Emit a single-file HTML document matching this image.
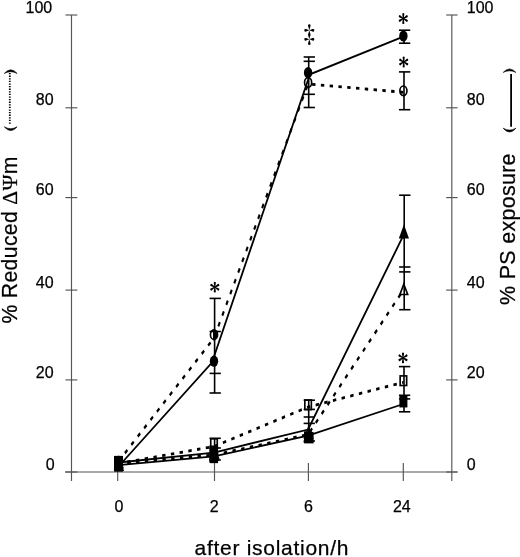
<!DOCTYPE html>
<html><head><meta charset="utf-8"><style>
html,body{margin:0;padding:0;background:#fff;}
svg{display:block;will-change:transform;}
text{stroke:#000;stroke-width:0.25px;}
</style></head><body>
<svg width="520" height="557" viewBox="0 0 520 557">

<g stroke="#555" stroke-width="1.15" fill="none">
<line x1="71.5" y1="15" x2="71.5" y2="481"/>
<line x1="451.8" y1="15" x2="451.8" y2="481"/>
<line x1="65" y1="472" x2="457.5" y2="472"/>
<line x1="65.5" y1="15" x2="77.3" y2="15"/>
<line x1="446.2" y1="15" x2="457.6" y2="15"/>
<line x1="65.5" y1="107.8" x2="77.3" y2="107.8"/>
<line x1="446.2" y1="107.8" x2="457.6" y2="107.8"/>
<line x1="65.5" y1="197.6" x2="77.3" y2="197.6"/>
<line x1="446.2" y1="197.6" x2="457.6" y2="197.6"/>
<line x1="65.5" y1="290.1" x2="77.3" y2="290.1"/>
<line x1="446.2" y1="290.1" x2="457.6" y2="290.1"/>
<line x1="65.5" y1="379.9" x2="77.3" y2="379.9"/>
<line x1="446.2" y1="379.9" x2="457.6" y2="379.9"/>
<line x1="65.5" y1="472" x2="77.3" y2="472"/>
<line x1="446.2" y1="472" x2="457.6" y2="472"/>
<line x1="117.7" y1="463" x2="117.7" y2="481"/>
<line x1="214.5" y1="463" x2="214.5" y2="481"/>
<line x1="308.4" y1="463" x2="308.4" y2="481"/>
<line x1="403.3" y1="463" x2="403.3" y2="481"/>
</g>
<g font-family="Liberation Sans" font-size="16" fill="#000">
<text x="52.2" y="12.7" text-anchor="end">100</text>
<text x="466.8" y="12.5">100</text>
<text x="53.6" y="105.3" text-anchor="end">80</text>
<text x="466.8" y="105.1">80</text>
<text x="53.6" y="195.4" text-anchor="end">60</text>
<text x="466.8" y="195.20000000000002">60</text>
<text x="53.6" y="287.7" text-anchor="end">40</text>
<text x="466.8" y="287.5">40</text>
<text x="53.6" y="377.7" text-anchor="end">20</text>
<text x="466.8" y="377.5">20</text>
<text x="54.6" y="469.6" text-anchor="end">0</text>
<text x="466.8" y="469.6">0</text>
<text x="119" y="511.7" text-anchor="middle">0</text>
<text x="214.1" y="511.7" text-anchor="middle">2</text>
<text x="308.4" y="511.7" text-anchor="middle">6</text>
<text x="401.8" y="511.7" text-anchor="middle">24</text>
</g>
<text x="194.5" y="555" font-family="Liberation Sans" font-size="21" letter-spacing="0.72">after isolation/h</text>
<text transform="translate(16.9,323.6) rotate(-90)" font-family="Liberation Sans" font-size="21.2" letter-spacing="0.35">% Reduced <tspan font-family="Liberation Serif" font-size="21.5">ΔΨ</tspan>m</text>
<text transform="translate(514.6,305) rotate(-90)" font-family="Liberation Sans" font-size="21.5" letter-spacing="0.28">% PS exposure</text>
<path d="M4.3,73.4 Q10.700000000000001,66.19999999999999 17.1,73.4 Q10.700000000000001,70.0 4.3,73.4 Z" fill="#000" stroke="#000" stroke-width="0.6" stroke-linejoin="round"/>
<path d="M4.3,126.8 Q10.700000000000001,134.39999999999998 17.1,126.8 Q10.700000000000001,130.59999999999997 4.3,126.8 Z" fill="#000" stroke="#000" stroke-width="0.6" stroke-linejoin="round"/>
<path d="M503.2,72.4 Q509.54999999999995,65.4 515.9,72.4 Q509.54999999999995,69.20000000000002 503.2,72.4 Z" fill="#000" stroke="#000" stroke-width="0.6" stroke-linejoin="round"/>
<path d="M503.2,128.2 Q509.54999999999995,135.8 515.9,128.2 Q509.54999999999995,132.0 503.2,128.2 Z" fill="#000" stroke="#000" stroke-width="0.6" stroke-linejoin="round"/>
<line x1="9.8" y1="73" x2="9.8" y2="125" stroke="#000" stroke-width="1.8" stroke-dasharray="1.3 1.3"/>
<line x1="511.1" y1="74" x2="511.1" y2="126.8" stroke="#000" stroke-width="1.8"/>
<rect x="114" y="456" width="9" height="15.6" fill="#000"/>
<g fill="none" stroke="#000">
<polyline points="118.5,466.5 212.0,362.5 310.0,74.3 403.4,36.6" stroke-width="1.8"/>
<polyline points="118.5,462.5 214.0,452.6 308.1,429.5 403.4,235.4" stroke-width="1.8"/>
<polyline points="118.5,465.2 214.0,456.3 308.1,435.7 403.4,404.0" stroke-width="1.8"/>
</g>
<g fill="none" stroke="#000" transform="scale(1,1.37)">
<polyline points="118.5,336.79 214.0,246.72 308.1,61.31 403.4,67.37" stroke-width="2.05" stroke-dasharray="3.4 5.4"/>
<polyline points="118.5,338.54 214.0,332.12 308.1,317.15 403.4,211.68" stroke-width="2.05" stroke-dasharray="3.4 5.4"/>
<polyline points="118.5,338.32 214.0,325.91 308.1,297.08 403.4,279.05" stroke-width="2.05" stroke-dasharray="3.4 5.4"/>
</g>
<g stroke="#000" stroke-width="1.6">
<line x1="214.6" y1="298.4" x2="214.6" y2="393"/><line x1="209.54999999999998" y1="298.4" x2="220.85" y2="298.4"/><line x1="209.54999999999998" y1="331.5" x2="220.85" y2="331.5"/><line x1="209.54999999999998" y1="373.4" x2="220.85" y2="373.4"/><line x1="209.54999999999998" y1="393" x2="220.85" y2="393"/>
<line x1="308.70000000000005" y1="57" x2="308.70000000000005" y2="107.5"/><line x1="303.65000000000003" y1="57" x2="314.95" y2="57"/><line x1="303.65000000000003" y1="61.3" x2="314.95" y2="61.3"/><line x1="303.65000000000003" y1="94.3" x2="314.95" y2="94.3"/><line x1="303.65000000000003" y1="107.5" x2="314.95" y2="107.5"/>
<line x1="404.0" y1="30.2" x2="404.0" y2="43.2"/><line x1="398.95" y1="30.2" x2="410.24999999999994" y2="30.2"/><line x1="398.95" y1="43.2" x2="410.24999999999994" y2="43.2"/>
<line x1="404.0" y1="71.9" x2="404.0" y2="109.7"/><line x1="398.95" y1="71.9" x2="410.24999999999994" y2="71.9"/><line x1="398.95" y1="109.7" x2="410.24999999999994" y2="109.7"/>
<line x1="404.20000000000005" y1="195.2" x2="404.20000000000005" y2="309.7"/><line x1="399.15000000000003" y1="195.2" x2="410.45" y2="195.2"/><line x1="399.15000000000003" y1="267" x2="410.45" y2="267"/><line x1="399.15000000000003" y1="271.9" x2="410.45" y2="271.9"/><line x1="399.15000000000003" y1="309.7" x2="410.45" y2="309.7"/>
<line x1="404.0" y1="366.6" x2="404.0" y2="411.8"/><line x1="398.95" y1="366.6" x2="410.24999999999994" y2="366.6"/><line x1="398.95" y1="395.3" x2="410.24999999999994" y2="395.3"/><line x1="398.95" y1="398.9" x2="410.24999999999994" y2="398.9"/><line x1="398.95" y1="411.8" x2="410.24999999999994" y2="411.8"/>
<line x1="308.70000000000005" y1="400.2" x2="308.70000000000005" y2="443"/><line x1="303.65000000000003" y1="400.2" x2="314.95" y2="400.2"/><line x1="303.65000000000003" y1="409.4" x2="314.95" y2="409.4"/><line x1="303.65000000000003" y1="417" x2="314.95" y2="417"/><line x1="303.65000000000003" y1="423.4" x2="314.95" y2="423.4"/><line x1="303.65000000000003" y1="441" x2="314.95" y2="441"/>
<line x1="214.6" y1="438.3" x2="214.6" y2="463"/><line x1="209.54999999999998" y1="438.3" x2="220.85" y2="438.3"/><line x1="209.54999999999998" y1="448" x2="220.85" y2="448"/><line x1="209.54999999999998" y1="460" x2="220.85" y2="460"/>
</g>
<rect x="115.25" y="456.7" width="6.5" height="9.6" fill="none" stroke="#000" stroke-width="1.65"/>
<rect x="210.75" y="438.8" width="6.5" height="9.6" fill="none" stroke="#000" stroke-width="1.65"/>
<rect x="304.85" y="400.0" width="6.5" height="9.6" fill="none" stroke="#000" stroke-width="1.65"/>
<rect x="400.15" y="375.9" width="6.5" height="9.6" fill="none" stroke="#000" stroke-width="1.65"/>
<path d="M118.9,457.4 L122.8,467.7 L115.0,467.7 Z" fill="none" stroke="#000" stroke-width="1.65"/>
<path d="M214.4,449.4 L218.3,459.7 L210.5,459.7 Z" fill="none" stroke="#000" stroke-width="1.65"/>
<path d="M308.5,431.4 L312.40000000000003,441.7 L304.6,441.7 Z" fill="none" stroke="#000" stroke-width="1.65"/>
<path d="M403.79999999999995,284.2 L407.7,294.5 L399.9,294.5 Z" fill="none" stroke="#000" stroke-width="1.65"/>
<ellipse cx="118.5" cy="462" rx="3.55" ry="4.8" fill="none" stroke="#000" stroke-width="1.65"/>
<ellipse cx="214.0" cy="334.7" rx="3.55" ry="4.8" fill="none" stroke="#000" stroke-width="1.65"/>
<ellipse cx="308.1" cy="82.5" rx="3.55" ry="4.8" fill="none" stroke="#000" stroke-width="1.65"/>
<ellipse cx="403.4" cy="90.8" rx="3.55" ry="4.8" fill="none" stroke="#000" stroke-width="1.65"/>
<rect x="114.5" y="459.75" width="8" height="11.5" fill="#000"/>
<rect x="210.0" y="451.65" width="8" height="11.5" fill="#000"/>
<rect x="304.1" y="431.25" width="8" height="11.5" fill="#000"/>
<rect x="399.4" y="395.95" width="8" height="11.5" fill="#000"/>
<path d="M119.0,457 L124.1,471 L113.9,471 Z" fill="#000"/>
<path d="M214.5,445 L219.6,459 L209.4,459 Z" fill="#000"/>
<path d="M308.6,425 L313.70000000000005,439 L303.5,439 Z" fill="#000"/>
<path d="M403.9,224.4 L409.0,238.4 L398.79999999999995,238.4 Z" fill="#000"/>
<ellipse cx="118.5" cy="463" rx="4.2" ry="5.6" fill="#000"/>
<ellipse cx="214.0" cy="361.2" rx="4.2" ry="5.6" fill="#000"/>
<ellipse cx="308.1" cy="72.7" rx="4.2" ry="5.6" fill="#000"/>
<ellipse cx="403.4" cy="36.0" rx="4.2" ry="5.6" fill="#000"/>
<rect x="209.3" y="445.5" width="8.8" height="17.2" fill="#000"/>
<path d="M213,329.8 C218.8,329.8 218.8,340.6 213,340.6 Z" fill="#000"/>
<rect x="304.2" y="432" width="9.4" height="11.4" fill="#000"/>
<g transform="translate(214.8,287.2) scale(0.95,1.02)" fill="#000"><path d="M-0.45,0 L-1.05,-3.8 A1.12,1.12 0 1,1 1.05,-3.8 L0.45,0 Z" transform="rotate(0)"/><path d="M-0.45,0 L-1.05,-3.8 A1.12,1.12 0 1,1 1.05,-3.8 L0.45,0 Z" transform="rotate(60)"/><path d="M-0.45,0 L-1.05,-3.8 A1.12,1.12 0 1,1 1.05,-3.8 L0.45,0 Z" transform="rotate(120)"/><path d="M-0.45,0 L-1.05,-3.8 A1.12,1.12 0 1,1 1.05,-3.8 L0.45,0 Z" transform="rotate(180)"/><path d="M-0.45,0 L-1.05,-3.8 A1.12,1.12 0 1,1 1.05,-3.8 L0.45,0 Z" transform="rotate(240)"/><path d="M-0.45,0 L-1.05,-3.8 A1.12,1.12 0 1,1 1.05,-3.8 L0.45,0 Z" transform="rotate(300)"/><circle r="1.1"/></g>
<g transform="translate(403.3,18.5) scale(0.95,1.02)" fill="#000"><path d="M-0.45,0 L-1.05,-3.8 A1.12,1.12 0 1,1 1.05,-3.8 L0.45,0 Z" transform="rotate(0)"/><path d="M-0.45,0 L-1.05,-3.8 A1.12,1.12 0 1,1 1.05,-3.8 L0.45,0 Z" transform="rotate(60)"/><path d="M-0.45,0 L-1.05,-3.8 A1.12,1.12 0 1,1 1.05,-3.8 L0.45,0 Z" transform="rotate(120)"/><path d="M-0.45,0 L-1.05,-3.8 A1.12,1.12 0 1,1 1.05,-3.8 L0.45,0 Z" transform="rotate(180)"/><path d="M-0.45,0 L-1.05,-3.8 A1.12,1.12 0 1,1 1.05,-3.8 L0.45,0 Z" transform="rotate(240)"/><path d="M-0.45,0 L-1.05,-3.8 A1.12,1.12 0 1,1 1.05,-3.8 L0.45,0 Z" transform="rotate(300)"/><circle r="1.1"/></g>
<g transform="translate(403.7,62) scale(0.95,1.02)" fill="#000"><path d="M-0.45,0 L-1.05,-3.8 A1.12,1.12 0 1,1 1.05,-3.8 L0.45,0 Z" transform="rotate(0)"/><path d="M-0.45,0 L-1.05,-3.8 A1.12,1.12 0 1,1 1.05,-3.8 L0.45,0 Z" transform="rotate(60)"/><path d="M-0.45,0 L-1.05,-3.8 A1.12,1.12 0 1,1 1.05,-3.8 L0.45,0 Z" transform="rotate(120)"/><path d="M-0.45,0 L-1.05,-3.8 A1.12,1.12 0 1,1 1.05,-3.8 L0.45,0 Z" transform="rotate(180)"/><path d="M-0.45,0 L-1.05,-3.8 A1.12,1.12 0 1,1 1.05,-3.8 L0.45,0 Z" transform="rotate(240)"/><path d="M-0.45,0 L-1.05,-3.8 A1.12,1.12 0 1,1 1.05,-3.8 L0.45,0 Z" transform="rotate(300)"/><circle r="1.1"/></g>
<g transform="translate(403,357.8) scale(0.95,1.02)" fill="#000"><path d="M-0.45,0 L-1.05,-3.8 A1.12,1.12 0 1,1 1.05,-3.8 L0.45,0 Z" transform="rotate(0)"/><path d="M-0.45,0 L-1.05,-3.8 A1.12,1.12 0 1,1 1.05,-3.8 L0.45,0 Z" transform="rotate(60)"/><path d="M-0.45,0 L-1.05,-3.8 A1.12,1.12 0 1,1 1.05,-3.8 L0.45,0 Z" transform="rotate(120)"/><path d="M-0.45,0 L-1.05,-3.8 A1.12,1.12 0 1,1 1.05,-3.8 L0.45,0 Z" transform="rotate(180)"/><path d="M-0.45,0 L-1.05,-3.8 A1.12,1.12 0 1,1 1.05,-3.8 L0.45,0 Z" transform="rotate(240)"/><path d="M-0.45,0 L-1.05,-3.8 A1.12,1.12 0 1,1 1.05,-3.8 L0.45,0 Z" transform="rotate(300)"/><circle r="1.1"/></g>
<g fill="#000" transform="translate(309.3,0)"><path d="M0,30.3 L-1.2,26.1 A1.3,1.3 0 1,1 1.2,26.1 Z"/><path d="M0,39.3 L-1.2,43.3 A1.3,1.3 0 1,0 1.2,43.3 Z"/><path d="M0,30.3 L-3.2,29.1 A1.3,1.3 0 1,0 -3.2,31.5 Z"/><path d="M0,30.3 L3.2,29.1 A1.3,1.3 0 1,1 3.2,31.5 Z"/><path d="M0,39.3 L-3.2,38.099999999999994 A1.3,1.3 0 1,0 -3.2,40.5 Z"/><path d="M0,39.3 L3.2,38.099999999999994 A1.3,1.3 0 1,1 3.2,40.5 Z"/><path d="M0,30.3 L1.3,34.8 L0,39.3 L-1.3,34.8 Z"/></g>
</svg>
</body></html>
